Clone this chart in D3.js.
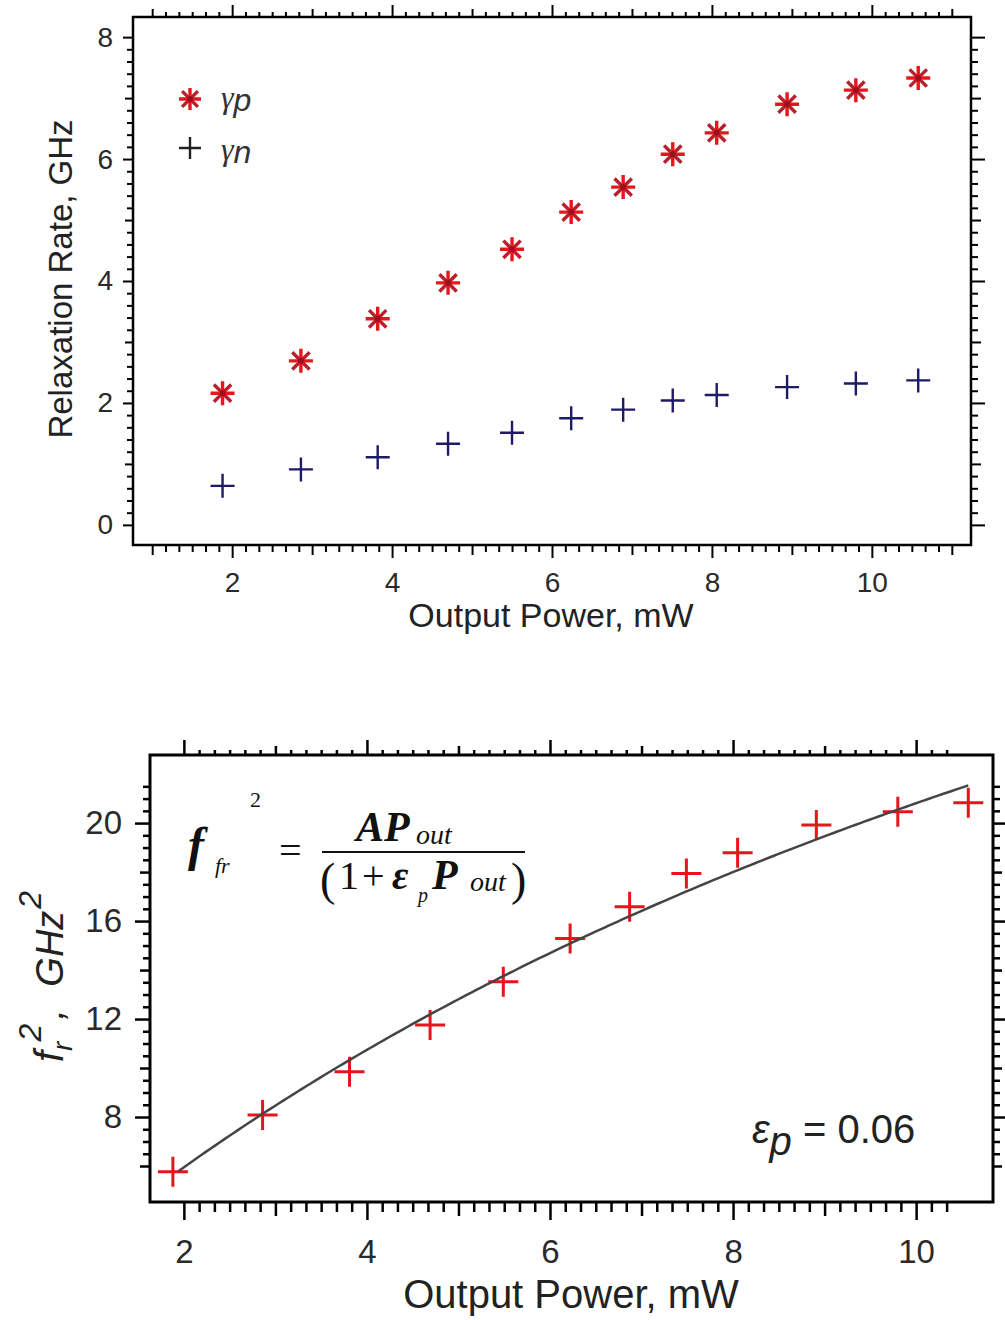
<!DOCTYPE html>
<html>
<head>
<meta charset="utf-8">
<script src="https://cdn.jsdelivr.net/npm/d3@7"></script>
<style>
  html, body { margin: 0; padding: 0; background: #fff; }
  svg { display: block; }
</style>
</head>
<body>
<svg id="fig" width="1005" height="1320"></svg>
<script>
// ---- Data: relaxation rates vs. output power ----
const powerTop = [1.88, 2.86, 3.82, 4.70, 5.50, 6.24, 6.89, 7.51, 8.06, 8.94, 9.80, 10.58];
const gammaP   = [2.16, 2.69, 3.38, 3.97, 4.52, 5.13, 5.54, 6.08, 6.43, 6.90, 7.13, 7.33];
const gammaN   = [0.64, 0.91, 1.11, 1.33, 1.51, 1.75, 1.89, 2.04, 2.13, 2.26, 2.32, 2.37];

// ---- Data: squared resonance frequency vs. output power ----
const powerBottom = [1.88, 2.86, 3.81, 4.69, 5.49, 6.22, 6.87, 7.49, 8.05, 8.91, 9.80, 10.57];
const frSquared   = [5.76, 8.08, 9.85, 11.76, 13.52, 15.29, 16.58, 17.94, 18.79, 19.92, 20.46, 20.83];

// Fit f^2 = A*P / (1 + eps*P)
const fitA = 3.33;
const fitEps = 0.06;
const fitRange = [1.94, 10.57];

// Tick labels
const topXTickLabels = [2, 4, 6, 8, 10];
const topYTickLabels = [0, 2, 4, 6, 8];
const botXTickLabels = [2, 4, 6, 8, 10];
const botYTickLabels = [8, 12, 16, 20];

const SANS = '"Liberation Sans", Arial, sans-serif';
const SERIF = '"Liberation Serif", "Times New Roman", serif';

const svg = d3.select("#fig");
svg.append("rect").attr("width", 1005).attr("height", 1320).attr("fill", "#fff");

const near = (v, k) => Math.abs(v / k - Math.round(v / k)) < 1e-6;

// Draws one tick layer (major / medium / minor) with d3 axis
function tickLayer(g, axisFn, scale, values, size, width, labels, pad, fontSize) {
  const ax = axisFn(scale).tickValues(values).tickSize(size).tickPadding(pad || 3)
    .tickFormat(labels ? d3.format("d") : () => "");
  const sel = g.append("g").call(ax);
  sel.select(".domain").remove();
  sel.selectAll(".tick line").attr("stroke", "#000").attr("stroke-width", width);
  sel.selectAll(".tick text")
    .attr("font-family", SANS).attr("font-size", fontSize || 24).attr("fill", "#2a2a2a");
  return sel;
}

// Splits a tick list into major/medium/minor and draws them
function sideTicks(g, axisFn, scale, all, majorStep, mediumStep, sizes, width, labelValues, pad, fontSize, withLabels) {
  const major = all.filter(v => near(v, majorStep));
  const medium = all.filter(v => !near(v, majorStep) && near(v, mediumStep));
  const minor = all.filter(v => !near(v, majorStep) && !near(v, mediumStep));
  tickLayer(g, axisFn, scale, minor, sizes[2], width);
  tickLayer(g, axisFn, scale, medium, sizes[1], width);
  tickLayer(g, axisFn, scale, withLabels ? labelValues : major, sizes[0], width, withLabels, pad, fontSize);
}

// ================= Upper panel =================
const T = { left: 133, top: 17, right: 971, bottom: 545 };
const xTop = d3.scaleLinear().domain([0.76, 11.24]).range([T.left, T.right]);
const yTop = d3.scaleLinear().domain([-0.33, 8.33]).range([T.bottom, T.top]);

const gTop = svg.append("g");
const topXTicks = d3.range(0, 61).map(i => 1 + i / 6);
const topYTicks = d3.range(0, 41).map(i => i * 0.2);

sideTicks(gTop.append("g").attr("transform", `translate(0,${T.bottom})`), d3.axisBottom, xTop,
  topXTicks, 2, 1, [13, 10, 7], 2, topXTickLabels, 14, 28, true);
sideTicks(gTop.append("g").attr("transform", `translate(0,${T.top})`), d3.axisTop, xTop,
  topXTicks, 2, 1, [12, 8, 5], 2, null, 3, 24, false);
sideTicks(gTop.append("g").attr("transform", `translate(${T.left},0)`), d3.axisLeft, yTop,
  topYTicks, 2, 1, [10, 8, 6], 2, topYTickLabels, 10, 28, true);
sideTicks(gTop.append("g").attr("transform", `translate(${T.right},0)`), d3.axisRight, yTop,
  topYTicks, 2, 1, [14, 10, 7], 2, null, 3, 24, false);

gTop.append("rect")
  .attr("x", T.left).attr("y", T.top)
  .attr("width", T.right - T.left).attr("height", T.bottom - T.top)
  .attr("fill", "none").attr("stroke", "#000").attr("stroke-width", 2.5);

// Markers
const asterisk = r => {
  const d = r * 0.72;
  return { straight: `M${-r},0H${r}M0,${-r}V${r}`, diag: `M${-d},${-d}L${d},${d}M${-d},${d}L${d},${-d}` };
};
const plus = r => `M${-r},0H${r}M0,${-r}V${r}`;

function drawAsterisk(g, cx, cy, r) {
  const a = asterisk(r);
  const m = g.append("g").attr("transform", `translate(${cx},${cy})`);
  m.append("path").attr("d", a.diag).attr("stroke", "#b8202c").attr("stroke-width", 3.4).attr("fill", "none");
  m.append("path").attr("d", a.straight).attr("stroke", "#e8161b").attr("stroke-width", 3.4).attr("fill", "none");
  m.append("circle").attr("r", 3).attr("fill", "#9a1020");
}

const ptsTop = gTop.append("g");
powerTop.forEach((p, i) => drawAsterisk(ptsTop, xTop(p), yTop(gammaP[i]), 12));
ptsTop.selectAll("path.gn").data(powerTop).join("path").attr("class", "gn")
  .attr("d", plus(12))
  .attr("transform", (p, i) => `translate(${xTop(p)},${yTop(gammaN[i])})`)
  .attr("stroke", "#1d1a66").attr("stroke-width", 2.4).attr("fill", "none");

// Legend
drawAsterisk(gTop, 190, 99, 11);
gTop.append("path").attr("d", plus(11)).attr("transform", "translate(190,148)")
  .attr("stroke", "#222").attr("stroke-width", 2.4).attr("fill", "none");
const lg1 = gTop.append("text").attr("x", 221).attr("y", 108).attr("font-size", 32).attr("fill", "#333");
lg1.append("tspan").attr("font-family", SERIF).attr("font-style", "italic").text("γ");
lg1.append("tspan").attr("font-family", SANS).attr("font-style", "italic").attr("dy", 3).text("p");
const lg2 = gTop.append("text").attr("x", 221).attr("y", 160).attr("font-size", 32).attr("fill", "#333");
lg2.append("tspan").attr("font-family", SERIF).attr("font-style", "italic").text("γ");
lg2.append("tspan").attr("font-family", SANS).attr("font-style", "italic").attr("dy", 3).text("n");

// Axis titles
gTop.append("text").attr("x", 551).attr("y", 627).attr("text-anchor", "middle")
  .attr("font-family", SANS).attr("font-size", 34).attr("fill", "#222").text("Output Power, mW");
gTop.append("text").attr("transform", "translate(72,279) rotate(-90)").attr("text-anchor", "middle")
  .attr("font-family", SANS).attr("font-size", 33).attr("fill", "#222").text("Relaxation Rate, GHz");

// ================= Lower panel =================
const B = { left: 150, top: 755, right: 993, bottom: 1202 };
const xBot = d3.scaleLinear().domain([1.63, 10.84]).range([B.left, B.right]);
const yBot = d3.scaleLinear().domain([4.53, 22.78]).range([B.bottom, B.top]);

const gBot = svg.append("g");
const botXTicks = d3.range(0, 51).map(i => 2 + i / 6);
const botYTicks = d3.range(0, 32).map(i => 6 + i * 0.5);

sideTicks(gBot.append("g").attr("transform", `translate(0,${B.bottom})`), d3.axisBottom, xBot,
  botXTicks, 2, 1, [18, 14, 10], 2.5, botXTickLabels, 20, 33, true);
sideTicks(gBot.append("g").attr("transform", `translate(0,${B.top})`), d3.axisTop, xBot,
  botXTicks, 2, 1, [15, 9, 5], 2.5, null, 3, 24, false);
sideTicks(gBot.append("g").attr("transform", `translate(${B.left},0)`), d3.axisLeft, yBot,
  botYTicks, 4, 2, [15, 10, 7], 2.5, botYTickLabels, 13, 33, true);
sideTicks(gBot.append("g").attr("transform", `translate(${B.right},0)`), d3.axisRight, yBot,
  botYTicks, 4, 2, [12, 9, 7], 2.5, null, 3, 24, false);

gBot.append("rect")
  .attr("x", B.left).attr("y", B.top)
  .attr("width", B.right - B.left).attr("height", B.bottom - B.top)
  .attr("fill", "none").attr("stroke", "#000").attr("stroke-width", 3);

// Measured points
gBot.append("g").selectAll("path").data(powerBottom).join("path")
  .attr("d", plus(15))
  .attr("transform", (p, i) => `translate(${xBot(p)},${yBot(frSquared[i])})`)
  .attr("stroke", "#e8141c").attr("stroke-width", 3).attr("fill", "none");

// Fitted curve
const fitP = d3.range(fitRange[0], fitRange[1], 0.05).concat([fitRange[1]]);
const fitLine = d3.line().x(p => xBot(p)).y(p => yBot(fitA * p / (1 + fitEps * p)));
gBot.append("path").datum(fitP).attr("d", fitLine)
  .attr("fill", "none").attr("stroke", "#444").attr("stroke-width", 2.5);

// Model expression
const eq = gBot.append("g").attr("font-family", SERIF).attr("fill", "#111");
const eqText = (x, y, size, str, bold, italic) => eq.append("text")
  .attr("x", x).attr("y", y).attr("font-size", size)
  .attr("font-weight", bold ? "bold" : "normal").attr("font-style", italic ? "italic" : "normal")
  .text(str);
eqText(188, 861, 48, "f", true, true);
eqText(215, 873, 22, "fr", false, true);
eqText(250, 807, 22, "2", false, false);
eqText(279, 864, 40, "=", false, false);
eq.append("line").attr("x1", 322).attr("x2", 525).attr("y1", 852).attr("y2", 852)
  .attr("stroke", "#111").attr("stroke-width", 2);
eqText(356, 841, 42, "AP", true, true);
eqText(416, 844, 28, "out", false, true);
eqText(320, 895, 46, "(", false, false);
eqText(339, 889, 40, "1", false, false);
eqText(362, 889, 40, "+", false, false);
eqText(392, 889, 40, "ε", true, true);
eqText(418, 902, 20, "p", false, true);
eqText(432, 889, 42, "P", true, true);
eqText(470, 891, 28, "out", false, true);
eqText(511, 895, 46, ")", false, false);

// Gain-compression value
const epsText = gBot.append("text").attr("x", 752).attr("y", 1143)
  .attr("font-family", SANS).attr("font-size", 40).attr("fill", "#222");
epsText.append("tspan").attr("font-style", "italic").text("ε");
epsText.append("tspan").attr("font-style", "italic").attr("dy", 12).text("p");
epsText.append("tspan").attr("x", 803).attr("dy", -12).text("= 0.06");

// Axis titles
gBot.append("text").attr("x", 571).attr("y", 1308).attr("text-anchor", "middle")
  .attr("font-family", SANS).attr("font-size", 40).attr("fill", "#222").text("Output Power, mW");

const yl = gBot.append("text").attr("transform", "translate(63,1062) rotate(-90)")
  .attr("font-family", SANS).attr("font-style", "italic").attr("font-size", 38).attr("fill", "#222");
yl.append("tspan").attr("font-size", 40).text("f");
yl.append("tspan").attr("font-size", 28).attr("dy", 9).text("r");
yl.append("tspan").attr("font-size", 32).attr("dy", -31).text("2");
yl.append("tspan").attr("dy", 22).attr("dx", 4).text(", ");
yl.append("tspan").attr("dx", 12).text("GHz");
yl.append("tspan").attr("font-size", 32).attr("dy", -22).attr("dx", 2).text("2");
</script>
</body>
</html>
